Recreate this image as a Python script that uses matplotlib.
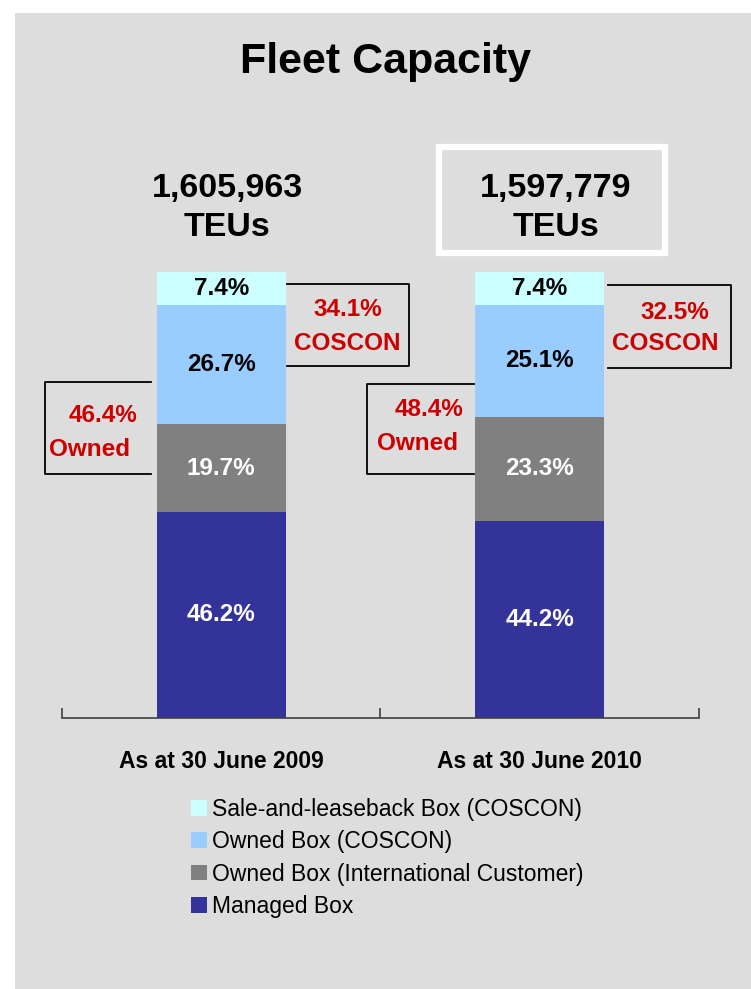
import numpy as np
import matplotlib
matplotlib.use("Agg")
import matplotlib.pyplot as plt
from matplotlib.patches import Rectangle
from matplotlib.lines import Line2D

plt.rcParams['font.family'] = ['Liberation Sans', 'DejaVu Sans']

# data
periods = ['As at 30 June 2009', 'As at 30 June 2010']
series = ['Managed Box', 'Owned Box (International Customer)',
          'Owned Box (COSCON)', 'Sale-and-leaseback Box (COSCON)']
managed = [46.2, 44.2]
owned_intl = [19.7, 23.3]
owned_coscon = [26.7, 25.1]
sale_lease = [7.4, 7.4]
totals = ['1,605,963', '1,597,779']
coscon_share = ['34.1%', '32.5%']
owned_share = ['46.4%', '48.4%']

colors = ['#333399', '#808080', '#99CCFF', '#CCFFFF']
label_colors = ['white', 'white', 'black', 'black']
red = '#CC0000'
bg = '#DDDDDD'

W, H = 751, 989
fig = plt.figure(figsize=(W / 100, H / 100), dpi=100)
fig.patch.set_facecolor('white')


def fx(x):
    return x / W


def fy(y):
    return 1 - y / H


# gray panel
fig.add_artist(Rectangle((fx(15), 0), 1 - fx(15), fy(13), transform=fig.transFigure,
                         facecolor=bg, edgecolor='none', zorder=0))

ax = fig.add_axes([fx(62), fy(718), fx(699) - fx(62), fy(272) - fy(718)])
ax.set_facecolor('none')
ax.set_xlim(-0.5, 1.5)
ax.set_ylim(0, 100)

x = np.arange(len(periods))
stack = [managed, owned_intl, owned_coscon, sale_lease]
bottom = np.zeros(len(periods))
handles = []
for vals, name, c, lc in zip(stack, series, colors, label_colors):
    vals = np.array(vals)
    b = ax.bar(x, vals, width=0.405, bottom=bottom, color=c, label=name, zorder=2)
    handles.append(b)
    for xi, v, b0 in zip(x, vals, bottom):
        ax.text(xi, b0 + v / 2, f'{v:.1f}%', ha='center', va='center',
                fontsize=17.5, fontweight='bold', color=lc, zorder=3)
    bottom += vals

for s in ['left', 'right', 'top']:
    ax.spines[s].set_visible(False)
ax.spines['bottom'].set_color('#404040')
ax.spines['bottom'].set_linewidth(1.2)
ax.set_yticks([])
ax.set_xticks([-0.5, 0.5, 1.5])
ax.tick_params(axis='x', direction='in', length=7, width=1.2, color='#404040',
               labelbottom=False)

for xi, p in zip(x, periods):
    ax.annotate(p, (xi, 0), xytext=(0, -43), textcoords='offset pixels',
                ha='center', va='center', fontsize=16.5, fontweight='bold')

# title
fig.text(fx(386), fy(62), 'Fleet Capacity', ha='center', va='center',
         fontsize=31, fontweight='bold')

# totals
fig.text(fx(227), fy(208), totals[0] + '\nTEUs', ha='center', va='center',
         fontsize=24.5, fontweight='bold', linespacing=1.35)
fig.text(fx(556), fy(208), totals[1] + '\nTEUs', ha='center', va='center',
         fontsize=24.5, fontweight='bold', linespacing=1.35)
fig.add_artist(Rectangle((fx(439), fy(253)), fx(665) - fx(439), fy(147) - fy(253),
                         transform=fig.transFigure, facecolor='none',
                         edgecolor='white', linewidth=4.5))


def bracket(x_open, x_far, y_top, y_bot):
    xs = [fx(x_open), fx(x_far), fx(x_far), fx(x_open)]
    ys = [fy(y_top), fy(y_top), fy(y_bot), fy(y_bot)]
    fig.add_artist(Line2D(xs, ys, transform=fig.transFigure, color='black', lw=1.3))


bracket(287, 409, 284, 366)
bracket(151, 45, 382, 474)
bracket(608, 731, 285, 368)
bracket(474, 367, 384, 474)

red_kw = dict(ha='center', va='center', fontsize=17.5, fontweight='bold', color=red)
fig.text(fx(348), fy(309), coscon_share[0], **red_kw)
fig.text(fx(347), fy(343), 'COSCON', **red_kw)
fig.text(fx(103), fy(415), owned_share[0], **red_kw)
fig.text(fx(90), fy(450), 'Owned', **red_kw)
fig.text(fx(675), fy(312), coscon_share[1], **red_kw)
fig.text(fx(665), fy(344), 'COSCON', **red_kw)
fig.text(fx(429), fy(409), owned_share[1], **red_kw)
fig.text(fx(418), fy(443), 'Owned', **red_kw)

fig.legend(handles[::-1], series[::-1], loc='upper left',
           bbox_to_anchor=(fx(182), fy(789)), frameon=False, fontsize=16.5,
           handlelength=0.68, handleheight=0.68, handletextpad=0.25,
           labelspacing=0.4, borderaxespad=0)

fig.savefig('out.png', dpi=100, facecolor=fig.get_facecolor())
